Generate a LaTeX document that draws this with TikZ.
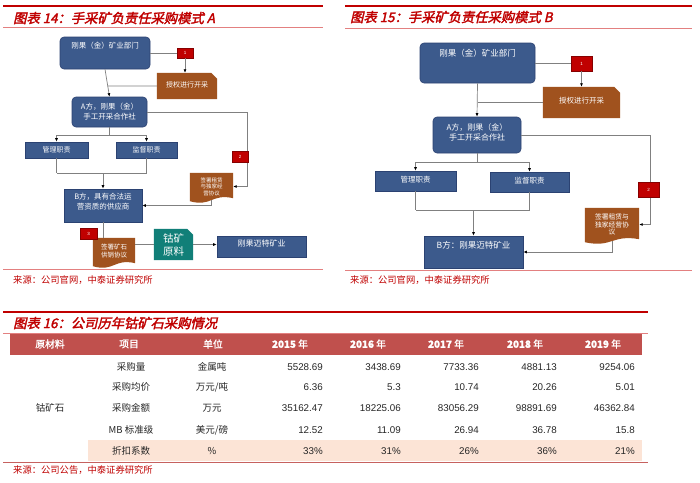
\documentclass[tikz,border=0pt]{standalone}
\usepackage{fontspec}
\setmainfont{Liberation Sans}
\newfontfamily\cjk{Noto Sans CJK SC}
\newfontfamily\cjkbold[FakeBold=1.5]{Noto Sans CJK SC}
\newfontfamily\cjktitle[FakeSlant=0.22,FakeBold=2.2]{Noto Sans CJK SC}
\usetikzlibrary{arrows.meta,calc,backgrounds}
\definecolor{boxblue}{HTML}{3C5A8C}
\definecolor{boxedge}{HTML}{2B4272}
\definecolor{docbrown}{HTML}{A0521E}
\definecolor{tagred}{HTML}{C00000}
\definecolor{tealc}{HTML}{117F78}
\definecolor{linegray}{HTML}{808080}
\definecolor{titlered}{HTML}{C00000}
\definecolor{rulered}{HTML}{C00000}
\definecolor{lightrule}{HTML}{E38080}
\definecolor{headred}{HTML}{C0504D}
\definecolor{peach}{HTML}{FCE4D6}
\definecolor{tabtext}{HTML}{262626}
\newcommand\wavedoc[2]{\fill[#2] (#1.north west) -- (#1.north east) -- ($(#1.south east)+(0,-2)$) .. controls ($(#1.south)+(0,-7)$) and ($(#1.south)+(0,7)$) .. ($(#1.south west)+(0,1)$) -- cycle;}
\newcommand\snipdoc[2]{\fill[#2] (#1.north west) -- ($(#1.north east)+(-6,0)$) -- ($(#1.north east)+(0,6)$) -- (#1.south east) -- (#1.south west) -- cycle;}
\begin{document}
\begin{tikzpicture}[x=1pt,y=-1pt,
  bluebox/.style={draw=boxedge, line width=0.6pt, fill=boxblue, text=white, inner sep=0pt, align=center, font=\cjk\fontsize{7.5}{10}\selectfont},
  roundbox/.style={bluebox, rounded corners=4pt},
  txt/.style={text=white, inner sep=0pt, align=center},
  tagbox/.style={fill=tagred, draw=tagred!70!black, line width=0.3pt, text=white, inner sep=0pt, font=\fontsize{4.5}{5}\selectfont},
  docnode/.style={inner sep=0pt, text=white, align=center},
  conn/.style={draw=linegray, line width=0.7pt},
  arr/.style={conn, -{Latex[length=3.5pt,width=3pt,color=black]}},
  ttl/.style={anchor=west, inner sep=0pt, text=titlered, font=\cjktitle\fontsize{13.3}{15}\selectfont},
  src/.style={anchor=west, inner sep=0pt, text=titlered, font=\cjk\fontsize{9.3}{10}\selectfont},
  hd/.style={text=white, inner sep=0pt, font=\cjkbold\fontsize{9.8}{10}\selectfont},
  cell/.style={text=tabtext, inner sep=0pt, font=\cjk\fontsize{9.5}{10}\selectfont},
  num/.style={text=tabtext, inner sep=0pt, anchor=east, font=\fontsize{9.8}{10}\selectfont}]
\useasboundingbox (0,0) rectangle (700,482);
\begin{pgfonlayer}{background}
\fill[white] (0,0) rectangle (700,482);
\end{pgfonlayer}

% ---------- headings ----------
\draw[rulered, line width=1.5pt] (3,6) -- (323,6);
\draw[rulered, line width=1.5pt] (345,6) -- (692,6);
\node[ttl] (T14) at (13,18) {图表 14：手采矿负责任采购模式 A};
\node[ttl] (T15) at (350,17) {图表 15：手采矿负责任采购模式 B};
\draw[lightrule, line width=0.8pt] (3,27) -- (323,27);
\draw[lightrule, line width=0.8pt] (345,28) -- (692,28);

% ---------- left diagram ----------
\node[roundbox, minimum width=90, minimum height=32] (L1) at (105,53) {};
\node[txt, font=\cjk\fontsize{7.5}{9}\selectfont] (L1t) at (105,46) {刚果（金）矿业部门};
\node[docnode, minimum width=60, minimum height=26, font=\cjk\fontsize{7}{8}\selectfont] (Ld1) at (187,86) {\raisebox{3pt}{授权进行开采}};
\node[roundbox, minimum width=75, minimum height=30] (LA) at (109.5,112) {A方，刚果（金）\\手工开采合作社};
\node[bluebox, minimum width=63, minimum height=16, font=\cjk\fontsize{7}{8}\selectfont] (LM) at (56.5,150) {管理职责};
\node[bluebox, minimum width=61, minimum height=16, font=\cjk\fontsize{7}{8}\selectfont] (LS) at (146.5,150) {监督职责};
\node[bluebox, minimum width=78, minimum height=33] (LB) at (103,205.5) {};
\node[txt, font=\cjk\fontsize{7.5}{10}\selectfont] (LBt) at (103,202) {B方，具有合法运\\营资质的供应商};
\node[docnode, minimum width=43, minimum height=27, font=\cjk\fontsize{5.5}{6.5}\selectfont] (Ld2) at (211.5,186.5) {签署租赁\\与独家经\\营协议};
\node[docnode, minimum width=42, minimum height=27, font=\cjk\fontsize{6.5}{8}\selectfont] (Ld3) at (114,251.5) {签署矿石\\供销协议};
\node[docnode, minimum width=39, minimum height=31, font=\cjk\fontsize{10.5}{13}\selectfont] (LT) at (173.5,244.5) {钴矿\\原料};
\node[bluebox, minimum width=89, minimum height=21] (LC) at (261.5,246.5) {};
\node[txt, font=\cjk\fontsize{8}{9}\selectfont] (LCt) at (261.5,243) {刚果迈特矿业};

% ---------- right diagram ----------
\node[roundbox, minimum width=115, minimum height=40] (R1) at (477.5,63) {};
\node[txt, font=\cjk\fontsize{8.5}{10}\selectfont] (R1t) at (477.5,53) {刚果（金）矿业部门};
\node[docnode, minimum width=77, minimum height=31, font=\cjk\fontsize{7.5}{9}\selectfont] (Rd1) at (581.5,102.5) {\raisebox{4pt}{授权进行开采}};
\node[roundbox, minimum width=88, minimum height=36] (RA) at (477,135) {};
\node[txt, font=\cjk\fontsize{8}{10}\selectfont] (RAt) at (477,132) {A方，刚果（金）\\手工开采合作社};
\node[bluebox, minimum width=81, minimum height=20, font=\cjk\fontsize{7.5}{9}\selectfont] (RM) at (415.5,181) {\raisebox{2.5pt}{管理职责}};
\node[bluebox, minimum width=79, minimum height=20, font=\cjk\fontsize{7.5}{9}\selectfont] (RS) at (529.5,182) {\raisebox{2.5pt}{监督职责}};
\node[bluebox, minimum width=99, minimum height=32] (RB) at (473.5,252) {};
\node[txt, font=\cjk\fontsize{8.5}{10}\selectfont] (RBt) at (473.5,245) {B方：刚果迈特矿业};
\node[docnode, minimum width=54, minimum height=33, font=\cjk\fontsize{6.8}{7.6}\selectfont] (Rd2) at (612,224.5) {签署租赁与\\独家经营协\\议};

% ---------- document shapes ----------
\begin{pgfonlayer}{background}
\snipdoc{Ld1}{docbrown}
\wavedoc{Ld2}{docbrown}
\wavedoc{Ld3}{docbrown}
\snipdoc{LT}{tealc}
\snipdoc{Rd1}{docbrown}
\wavedoc{Rd2}{docbrown}
\end{pgfonlayer}

% ---------- left connectors ----------
\coordinate (Lk) at (247,112);
\draw[conn] (L1.east) -- (L1.east -| 177,0);
\node[tagbox, minimum width=16, minimum height=10] (Lr1) at (185,53) {1};
\draw[arr] (Lr1.south) -- (Lr1.south |- Ld1.north);
\draw[arr] (L1.south) -- (LA.north);
\draw[conn] (Ld1.west) -- (intersection of L1.south--LA.north and Ld1.west--Ld1.east);
\draw[arr] (LA.east) -- (Lk) |- (Ld2.east);
\draw[conn] (LA.south) -- ++(0,8) coordinate (La);
\draw[conn] (La -| LM.north) -- (La -| LS.north);
\draw[arr] (La -| LM.north) -- (LM.north);
\draw[arr] (La -| LS.north) -- (LS.north);
\draw[conn] (LM.south) -- ++(0,15) coordinate (Lb);
\draw[conn] (LS.south) -- (LS.south |- Lb) -- (Lb);
\draw[arr] (Lb -| LB.north) -- (LB.north);
\draw[arr] (Ld2.south) |- (LB.east);
\draw[conn] (LB.south) -- (LB.south |- Ld3.north);
\draw[conn] (Ld3.east |- LT.west) -- (LT.west);
\draw[arr] (LT.east) -- (LT.east -| LC.west);
\node[tagbox, minimum width=16, minimum height=11] (Lr2) at (240,156.5) {2};
\node[tagbox, minimum width=17, minimum height=11] (Lr3) at (88.5,233.5) {3};

% ---------- right connectors ----------
\coordinate (Rk) at (650,135);
\draw[conn] (R1.east) -- (R1.east -| 571,0);
\node[tagbox, minimum width=21, minimum height=15] (Rr1) at (581.5,63.5) {1};
\draw[arr] (Rr1.south) -- (Rr1.south |- Rd1.north);
\draw[arr] (R1.south) -- (RA.north);
\draw[conn] (Rd1.west) -- (Rd1.west -| R1.south);
\draw[arr] (RA.east) -- (Rk) |- (Rd2.east);
\draw[conn] (RA.south) -- ++(0,9) coordinate (Ra);
\draw[conn] (Ra -| RM.north) -- (Ra -| RS.north);
\draw[arr] (Ra -| RM.north) -- (RM.north);
\draw[arr] (Ra -| RS.north) -- (RS.north);
\draw[conn] (RM.south) -- ++(0,19) coordinate (Rb);
\draw[conn] (RS.south) -- (RS.south |- Rb) -- (Rb);
\draw[arr] (Rb -| RB.north) -- (RB.north);
\draw[arr] (Rd2.south) |- (RB.east);
\node[tagbox, minimum width=21, minimum height=15] (Rr2) at (648.5,189.5) {2};

% ---------- sources of diagrams ----------
\draw[lightrule, line width=0.8pt] (3,269) -- (323,269);
\draw[lightrule, line width=0.8pt] (345,270) -- (692,270);
\node[src] (S14) at (13,280) {来源：公司官网，中泰证券研究所};
\node[src] (S15) at (350,280) {来源：公司官网，中泰证券研究所};

% ---------- table ----------
\draw[rulered, line width=1.5pt] (3,312) -- (648,312);
\node[ttl] (T16) at (13,323) {图表 16：公司历年钴矿石采购情况};
\draw[lightrule, line width=0.8pt] (3,333) -- (648,333);
\fill[headred] (10,333.5) rectangle (642,355);
\fill[peach] (88,440) rectangle (642,461);
\draw[headred!90!white, line width=1pt] (3,462) -- (648,462);

\node[hd] (H1) at (50,344) {原材料};
\node[hd] (H2) at (129,344) {项目};
\node[hd] (H3) at (213,344) {单位};
\node[hd] (H4) at (290,344) {\textbf{2015} 年};
\node[hd] (H5) at (368,344) {\textbf{2016} 年};
\node[hd] (H6) at (446,344) {\textbf{2017} 年};
\node[hd] (H7) at (525,344) {\textbf{2018} 年};
\node[hd] (H8) at (603,344) {\textbf{2019} 年};

\node[cell] (C0) at (50,408) {钴矿石};
\foreach \r/\y/\item/\unit/\a/\b/\c/\d/\e in {
  1/367/采购量/金属吨/5528.69/3438.69/7733.36/4881.13/9254.06,
  2/387/采购均价/{万元/吨}/6.36/5.3/10.74/20.26/5.01,
  3/408/采购金额/万元/35162.47/18225.06/83056.29/98891.69/46362.84,
  4/430/MB 标准级/{美元/磅}/12.52/11.09/26.94/36.78/15.8,
  5/451/折扣系数/\%/33\%/31\%/26\%/36\%/21\%}{
  \node[cell] (I\r) at (131,\y) {\item};
  \node[cell] (U\r) at (212,\y) {\unit};
  \node[num] (Na\r) at (323,\y) {\a};
  \node[num] (Nb\r) at (401,\y) {\b};
  \node[num] (Nc\r) at (479,\y) {\c};
  \node[num] (Nd\r) at (557,\y) {\d};
  \node[num] (Ne\r) at (635,\y) {\e};
}
\node[src] (S16) at (13,470) {来源：公司公告，中泰证券研究所};
\end{tikzpicture}
\end{document}
